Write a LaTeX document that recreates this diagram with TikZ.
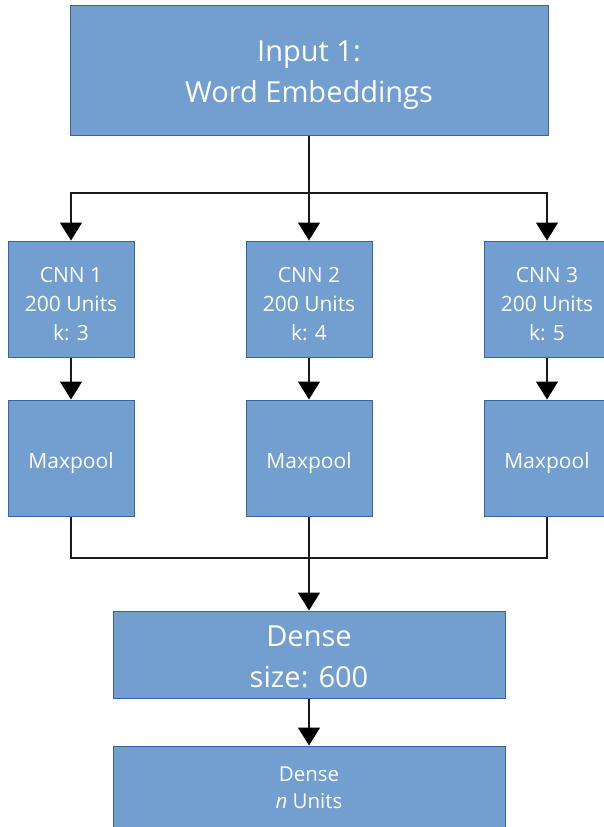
\documentclass[tikz,border=0pt]{standalone}
\usepackage{fontspec}
\setmainfont{Open Sans}
\usetikzlibrary{arrows.meta}
\definecolor{boxfill}{HTML}{729FCF}
\definecolor{boxline}{HTML}{3465A4}
\definecolor{lineclr}{HTML}{1A1A1A}
\tikzset{
  blk/.style={draw=boxline, fill=boxfill, line width=1pt, inner sep=0pt},
  lbl/.style={text=white, align=center, inner sep=0pt},
  bigtxt/.style={font=\fontsize{29}{41}\selectfont},
  smalltxt/.style={font=\fontsize{21}{29}\selectfont},
  conn/.style={draw=lineclr, line width=1.5pt},
  arr/.style={conn, -{Triangle[width=22pt,length=18pt,color=black]}},
  cnnbox/.style={blk, minimum width=126pt, minimum height=116pt},
}
\begin{document}
\begin{tikzpicture}[x=1pt,y=-1pt]
\useasboundingbox (0,0) rectangle (604,827);
\clip (0,0) rectangle (604,827);
\node[blk,minimum width=478pt,minimum height=130pt,
  label={[lbl,bigtxt,yshift=-5.5pt]center:Input 1:\\Word Embeddings}] (top) at (309,70) {};
\node[cnnbox,label={[lbl,smalltxt,yshift=-5pt]center:CNN 1\\200 Units\\k: 3}] (cnn1) at (71,299) {};
\node[cnnbox,label={[lbl,smalltxt,yshift=-5pt]center:CNN 2\\200 Units\\k: 4}] (cnn2) at (309,299) {};
\node[cnnbox,label={[lbl,smalltxt,yshift=-5pt]center:CNN 3\\200 Units\\k: 5}] (cnn3) at (547,299) {};
\node[cnnbox,label={[lbl,smalltxt,yshift=-5pt]center:Maxpool}] (mp1) at (71,458) {};
\node[cnnbox,label={[lbl,smalltxt,yshift=-5pt]center:Maxpool}] (mp2) at (309,458) {};
\node[cnnbox,label={[lbl,smalltxt,yshift=-5pt]center:Maxpool}] (mp3) at (547,458) {};
\node[blk,minimum width=392pt,minimum height=87pt,
  label={[lbl,bigtxt,yshift=-2pt]center:Dense\\size: 600}] (dense) at (309,654.5) {};
\node[blk,minimum width=392pt,minimum height=84pt,
  label={[lbl,font=\fontsize{20.5}{27}\selectfont]center:Dense\\\textit{n} Units}] (out) at (309,788) {};
\coordinate (split) at (309,193);
\coordinate (merge) at (309,558);
\draw[conn] (top.south) -- (split);
\draw[arr] (split) -| (cnn1.north);
\draw[arr] (split) -| (cnn3.north);
\draw[arr] (top.south) -- (cnn2.north);
\draw[arr] (cnn1) -- (mp1);
\draw[arr] (cnn2) -- (mp2);
\draw[arr] (cnn3) -- (mp3);
\draw[conn] (mp1.south) |- (merge);
\draw[conn] (mp3.south) |- (merge);
\draw[arr] (mp2.south) -- (dense.north);
\draw[arr] (dense) -- (out);
\end{tikzpicture}
\end{document}
